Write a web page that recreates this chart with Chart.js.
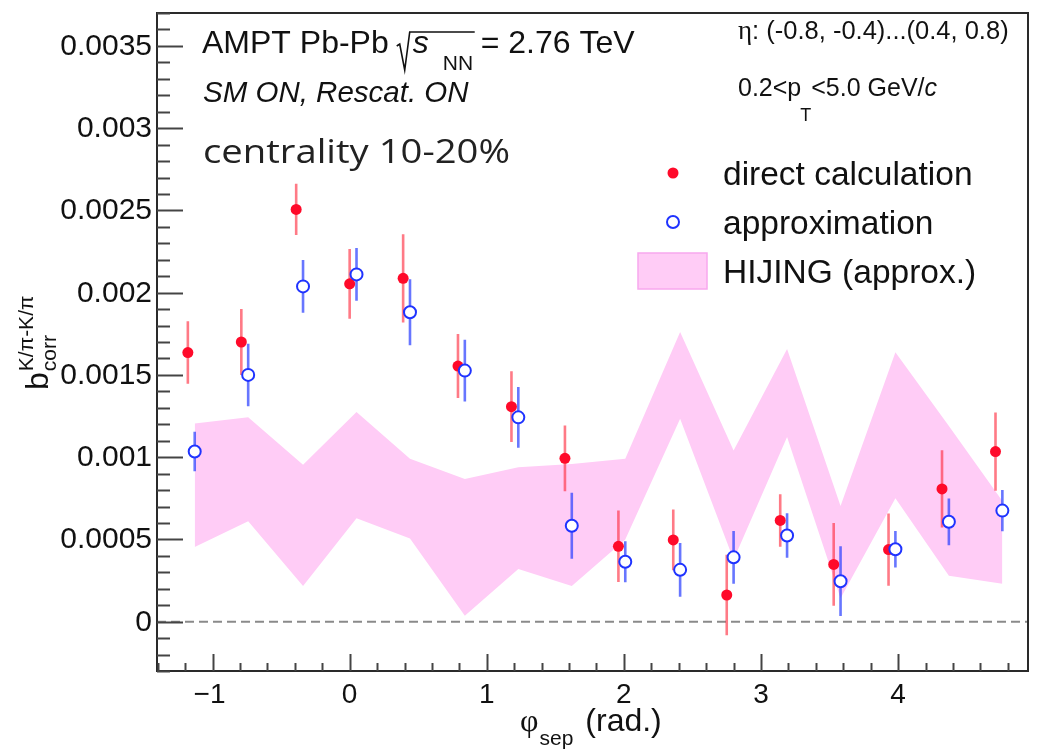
<!DOCTYPE html>
<html>
<head>
<meta charset="utf-8">
<script src="https://cdn.jsdelivr.net/npm/chart.js@4.4.1/dist/chart.umd.min.js"></script>
<style>
  html, body { margin: 0; padding: 0; background: #fff; }
  #wrap { position: relative; width: 1038px; height: 751px; }
</style>
</head>
<body>
<div id="wrap"><canvas id="chart" width="1038" height="751"></canvas></div>
<script>
// ===== DATA =====
const phiDirect = [-1.18, -0.79, -0.39, 0.00, 0.39, 0.79, 1.18, 1.57, 1.96, 2.36, 2.75, 3.14, 3.53, 3.93, 4.32, 4.71];
const bDirect = [0.001636, 0.00170, 0.002506, 0.002054, 0.002087, 0.001554, 0.001307, 0.000993,
                 0.000458, 0.000497, 0.000162, 0.000615, 0.000348, 0.000438, 0.000807, 0.001034];
const errDirect = [0.00019, 0.00020, 0.000156, 0.000212, 0.000268, 0.000195, 0.000215, 0.00020,
                   0.000217, 0.000185, 0.000245, 0.000159, 0.000252, 0.00022, 0.000235, 0.000238];

const phiApprox = [-1.13, -0.74, -0.34, 0.05, 0.44, 0.84, 1.23, 1.62, 2.01, 2.41, 2.80, 3.19, 3.58, 3.98, 4.37, 4.76];
const bApprox = [0.001034, 0.00150, 0.002038, 0.002111, 0.001881, 0.001526, 0.001242, 0.000583,
                 0.000364, 0.000315, 0.000391, 0.000524, 0.000246, 0.00044, 0.000607, 0.000675];
const errApprox = [0.00012, 0.00019, 0.00016, 0.00016, 0.00020, 0.000187, 0.000185, 0.00020,
                   0.000124, 0.000163, 0.00016, 0.000135, 0.000212, 0.000111, 0.000142, 0.000125];

// HIJING band, same phi as approximation points
const hijingHigh = [0.001204, 0.001242, 0.000954, 0.001275, 0.00099, 0.000867, 0.000938, 0.000958,
                    0.00099, 0.001761, 0.00104, 0.001658, 0.000703, 0.001638, 0.00119, 0.000734];
const hijingLow = [0.000454, 0.000611, 0.000217, 0.000628, 0.000505, 0.000036, 0.00032, 0.000217,
                   0.0005, 0.001234, 0.000377, 0.001122, 0.000142, 0.00075, 0.000279, 0.00023];

const xTickValues = [-1, 0, 1, 2, 3, 4];
const xTickLabels = ['\u22121', '0', '1', '2', '3', '4'];
const yTickValues = [0, 0.0005, 0.001, 0.0015, 0.002, 0.0025, 0.003, 0.0035];
const yTickLabels = ['0', '0.0005', '0.001', '0.0015', '0.002', '0.0025', '0.003', '0.0035'];

const xMin = -1.405, xMax = 4.947;
const yMin = -0.0003, yMax = 0.0037;

// ===== COLOURS =====
const RED = '#ff0a2a';
const RED_ERR = 'rgba(255, 40, 60, 0.62)';
const BLUE = '#1f33ff';
const BLUE_ERR = 'rgba(45, 65, 255, 0.72)';
const PINK = '#ffccf6';
const PINK_EDGE = '#f8a8ee';
const FONT = '"Liberation Sans", Arial, Helvetica, sans-serif';

// ===== HELPERS =====
function points(xs, ys) {
  return xs.map((x, i) => ({ x: x, y: ys[i] }));
}
function errorSegments(xs, ys, es) {
  let out = [];
  xs.forEach((x, i) => {
    out.push({ x: x, y: ys[i] - es[i] });
    out.push({ x: x, y: ys[i] + es[i] });
    out.push({ x: x, y: null });
  });
  return out;
}

// ===== ROOT-LIKE FRAME, AXES AND TEXTS =====
const rootStyle = {
  id: 'rootStyle',
  afterDraw(chart) {
    const c = chart.ctx;
    const a = chart.chartArea;
    const xs = chart.scales.x, ys = chart.scales.y;
    c.save();

    // frame
    c.strokeStyle = '#2a2a2a';
    c.lineWidth = 2;
    c.strokeRect(a.left, a.top, a.right - a.left, a.bottom - a.top);

    // y ticks (inside)
    c.strokeStyle = '#444';
    c.lineWidth = 2;
    for (let i = -3; i <= 37; i++) {
      const py = Math.round(ys.getPixelForValue(i * 0.0001)) + 0.5;
      const len = (i % 5 === 0) ? 26 : 13;
      c.beginPath(); c.moveTo(a.left, py); c.lineTo(a.left + len, py); c.stroke();
    }
    // x ticks (inside)
    for (let i = -7; i <= 24; i++) {
      const px = Math.round(xs.getPixelForValue(i * 0.2)) + 0.5;
      const len = (i % 5 === 0) ? 17 : 8;
      c.beginPath(); c.moveTo(px, a.bottom); c.lineTo(px, a.bottom - len); c.stroke();
    }

    // tick labels
    c.fillStyle = '#111';
    c.font = '30px ' + FONT;
    c.textAlign = 'right';
    c.textBaseline = 'alphabetic';
    yTickValues.forEach((v, i) => {
      c.fillText(yTickLabels[i], a.left - 5, ys.getPixelForValue(v) + 9);
    });
    c.font = '28px ' + FONT;
    c.textAlign = 'center';
    xTickValues.forEach((v, i) => {
      const dx = v < 0 ? -3 : 0;
      c.fillText(xTickLabels[i], xs.getPixelForValue(v) + dx, a.bottom + 32);
    });

    // x title: phi_sep (rad.)
    c.textAlign = 'left';
    let x0 = 520;
    c.font = '32px "Liberation Serif", serif';
    c.fillText('\u03c6', x0, 731);
    x0 += c.measureText('\u03c6').width + 1;
    c.font = '21px ' + FONT;
    c.fillText('sep', x0, 745);
    x0 += c.measureText('sep').width + 12;
    c.font = '32px ' + FONT;
    c.fillText('(rad.)', x0, 731);

    // y title: b_corr^{K/pi-K/pi}
    c.save();
    c.translate(48, 390);
    c.rotate(-Math.PI / 2);
    c.font = '32px ' + FONT;
    c.fillText('b', 0, 0);
    const bw = c.measureText('b').width;
    c.font = '21px ' + FONT;
    c.fillText('K/\u03c0-K/\u03c0', bw + 1, -15);
    c.fillText('corr', bw + 1, 8);
    c.restore();

    // top-left label
    c.font = '32px ' + FONT;
    const base = 53;
    c.fillText('AMPT Pb-Pb', 202, base);
    const sqrtX = 202 + c.measureText('AMPT Pb-Pb').width + 8;
    c.strokeStyle = '#111';
    c.lineWidth = 1.6;
    c.beginPath();
    c.moveTo(sqrtX, base - 7);
    c.lineTo(sqrtX + 3, base - 9);
    c.lineTo(sqrtX + 8, base + 17);
    c.lineTo(sqrtX + 13, base - 21);
    c.lineTo(sqrtX + 78, base - 21);
    c.stroke();
    c.font = 'italic 32px ' + FONT;
    c.fillText('s', sqrtX + 16, base);
    c.font = '21px ' + FONT;
    c.fillText('NN', sqrtX + 46, base + 17);
    c.font = '32px ' + FONT;
    c.fillText('= 2.76 TeV', sqrtX + 84, base);

    c.font = 'italic 29.5px ' + FONT;
    c.fillText('SM ON, Rescat. ON', 203, 102);

    // centrality (Calibri-like overlay text)
    c.save();
    c.font = '32px "Open Sans", "Noto Sans", sans-serif';
    const cenW = c.measureText('centrality 10-20%').width;
    c.translate(203, 163);
    c.scale(307 / cenW, 1);
    c.fillStyle = '#222';
    c.fillText('centrality 10-20%', 0, 0);
    c.restore();

    // top-right label
    c.font = '27px "Liberation Serif", serif';
    c.fillText('\u03b7', 738, 39);
    let rx = 738 + c.measureText('\u03b7').width;
    c.font = '25.5px ' + FONT;
    c.fillText(': (-0.8, -0.4)...(0.4, 0.8)', rx, 39);

    c.font = '25px ' + FONT;
    rx = 738;
    c.fillText('0.2<p', rx, 96);
    rx += c.measureText('0.2<p').width;
    c.font = '18px ' + FONT;
    c.fillText('T', rx - 1, 121);
    rx += c.measureText('T').width - 1;
    c.font = '25px ' + FONT;
    c.fillText('<5.0 GeV/', rx, 96);
    rx += c.measureText('<5.0 GeV/').width;
    c.font = 'italic 25px ' + FONT;
    c.fillText('c', rx, 96);

    // legend
    const ds = chart.data.datasets;
    const legendRows = [
      { label: ds[1].label, y: 173, kind: 'dot' },
      { label: ds[0].label, y: 222, kind: 'circle' },
      { label: ds[5].label, y: 271, kind: 'box' }
    ];
    legendRows.forEach(r => {
      if (r.kind === 'dot') {
        c.fillStyle = RED;
        c.beginPath(); c.arc(673, r.y, 5.5, 0, Math.PI * 2); c.fill();
      } else if (r.kind === 'circle') {
        c.fillStyle = '#fff';
        c.strokeStyle = BLUE;
        c.lineWidth = 2;
        c.beginPath(); c.arc(673, r.y, 6, 0, Math.PI * 2); c.fill(); c.stroke();
      } else {
        c.fillStyle = PINK;
        c.strokeStyle = PINK_EDGE;
        c.lineWidth = 1.5;
        c.fillRect(638, r.y - 18, 69, 36);
        c.strokeRect(638, r.y - 18, 69, 36);
      }
      c.fillStyle = '#111';
      c.font = '33.5px ' + FONT;
      c.fillText(r.label, 723, r.y + 12);
    });

    c.restore();
  }
};

// ===== CHART =====
const ctx = document.getElementById('chart');
const chart = new Chart(ctx, {
  type: 'scatter',
  data: {
    datasets: [
      {
        label: 'approximation',
        data: points(phiApprox, bApprox),
        pointRadius: 6, pointHoverRadius: 6,
        pointBackgroundColor: '#fff', pointBorderColor: BLUE, pointBorderWidth: 2,
        showLine: false, order: 0
      },
      {
        label: 'direct calculation',
        data: points(phiDirect, bDirect),
        pointRadius: 5.5, pointHoverRadius: 5.5,
        pointBackgroundColor: RED, pointBorderWidth: 0,
        showLine: false, order: 1
      },
      {
        label: 'approximation errors',
        data: errorSegments(phiApprox, bApprox, errApprox),
        showLine: true, spanGaps: false, pointRadius: 0,
        borderColor: BLUE_ERR, borderWidth: 2.6, order: 2
      },
      {
        label: 'direct errors',
        data: errorSegments(phiDirect, bDirect, errDirect),
        showLine: true, spanGaps: false, pointRadius: 0,
        borderColor: RED_ERR, borderWidth: 2.6, order: 3
      },
      {
        label: 'zero',
        data: [{ x: xMin, y: 0 }, { x: xMax, y: 0 }],
        showLine: true, pointRadius: 0,
        borderColor: '#8a8a8a', borderWidth: 2, borderDash: [9, 5], order: 4
      },
      {
        label: 'HIJING (approx.)',
        data: points(phiApprox, hijingHigh),
        showLine: true, pointRadius: 0, borderWidth: 0,
        borderColor: PINK, backgroundColor: PINK,
        fill: '+1', tension: 0, order: 5
      },
      {
        label: 'HIJING low',
        data: points(phiApprox, hijingLow),
        showLine: true, pointRadius: 0, borderWidth: 0,
        borderColor: PINK, fill: false, tension: 0, order: 6
      }
    ]
  },
  options: {
    responsive: false,
    animation: false,
    devicePixelRatio: 1,
    layout: { padding: { left: 157, right: 10, top: 13, bottom: 80 } },
    scales: {
      x: { type: 'linear', min: xMin, max: xMax, display: false },
      y: { type: 'linear', min: yMin, max: yMax, display: false }
    },
    plugins: {
      legend: { display: false },
      tooltip: { enabled: false }
    }
  },
  plugins: [rootStyle]
});
</script>
</body>
</html>
